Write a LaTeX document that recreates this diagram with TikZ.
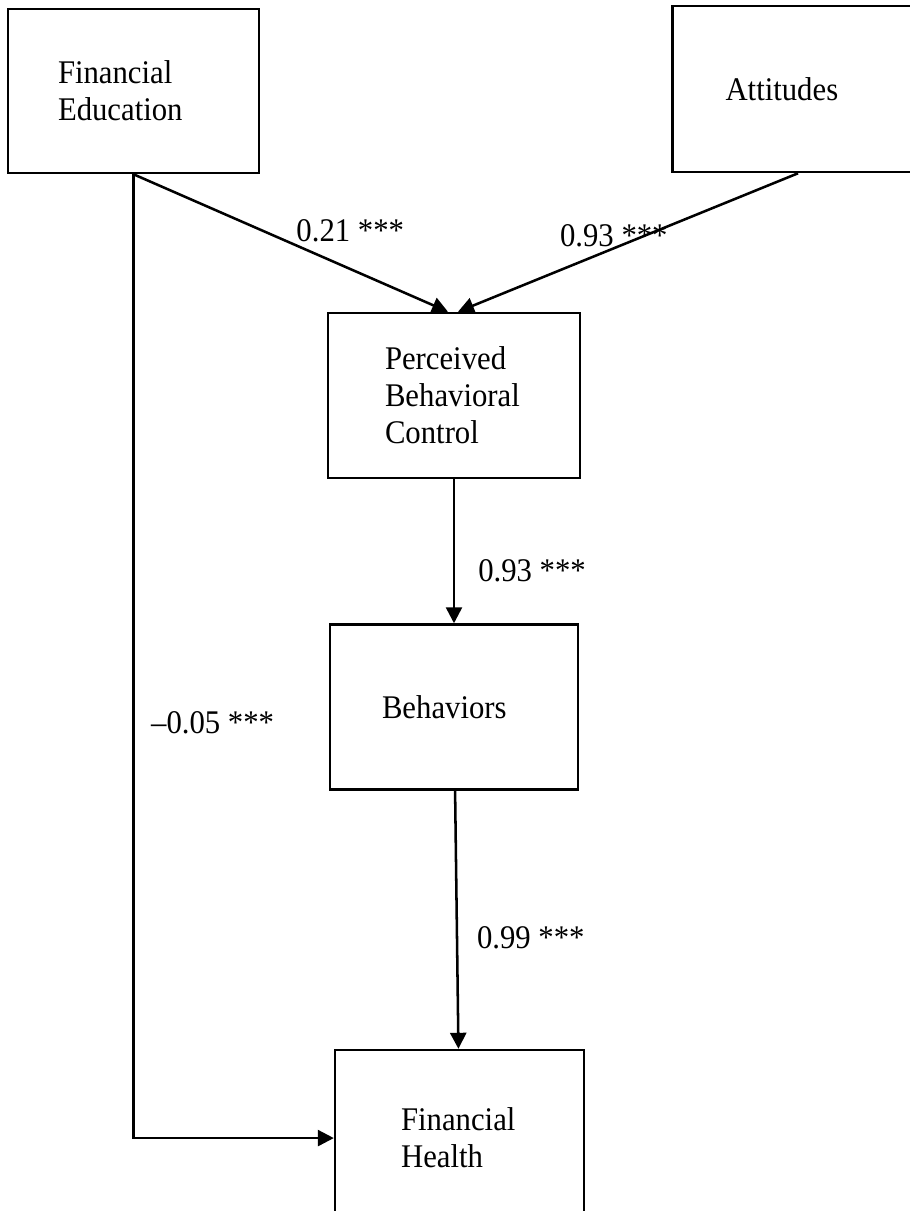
\documentclass[tikz,border=0pt]{standalone}
\usepackage{fontspec}
\setmainfont{Liberation Serif}[FakeStretch=0.93]
\usetikzlibrary{positioning,arrows.meta}

\tikzstyle{boxNode} = [rectangle, minimum height=4.125cm, draw=black, line width=1.8pt, align=left, inner sep=0pt, font=\fontsize{23.5}{26.3}\selectfont]
\tikzstyle{lblNode} = [inner sep=0pt, anchor=base west, font=\fontsize{23.5}{26.3}\selectfont]
\tikzstyle{arrow} = [line width=1.8pt,-{Triangle[length=0.4cm,width=0.4cm]}]

\begin{document}
\begin{tikzpicture}
    \path[use as bounding box, fill=white] (0,0) rectangle (22.75,-30.275);
    \clip (0,0) rectangle (22.75,-30.275);

    \node (education)[boxNode, minimum width=6.275cm, minimum height=4.1cm, text width=3.775cm] at (3.3375,-2.275) {Financial\\Education};
    \node (attitudes)[boxNode, right=10.275cm of education, yshift=0.05cm, minimum width=6.275cm, minimum height=4.15cm, text width=3.625cm] {Attitudes};
    \node (pbc)[boxNode, minimum width=6.3cm, text width=3.45cm] at (11.35,-9.8875) {Perceived\\Behavioral\\Control};
    \node (behaviors)[boxNode, below=3.6cm of pbc, minimum width=6.2cm, text width=3.6cm] {Behaviors};
    \node (health)[boxNode, below=6.45cm of behaviors, xshift=0.14cm, minimum width=6.225cm, minimum height=4.4cm, text width=2.925cm] {Financial\\Health};

    \draw [arrow] (education.south) -- node[lblNode, pos=0.49, xshift=0.19cm] {0.21 ***} ([xshift=-0.15cm]pbc.north);
    \draw [arrow] (attitudes.south) -- node[lblNode, anchor=base, pos=0.53, xshift=-0.1cm] {0.93 ***} ([xshift=0.1cm]pbc.north);
    \draw [arrow] (pbc) -- node[lblNode, pos=0.71, xshift=0.575cm] {0.93 ***} (behaviors);
    \draw [arrow] (behaviors) -- node[lblNode, pos=0.61, xshift=0.465cm] {0.99 ***} (health);
    \draw [arrow] (education.south) |- node[lblNode, pos=0.29, xshift=0.41cm] {--0.05 ***} (health.west);

\end{tikzpicture}
\end{document}
